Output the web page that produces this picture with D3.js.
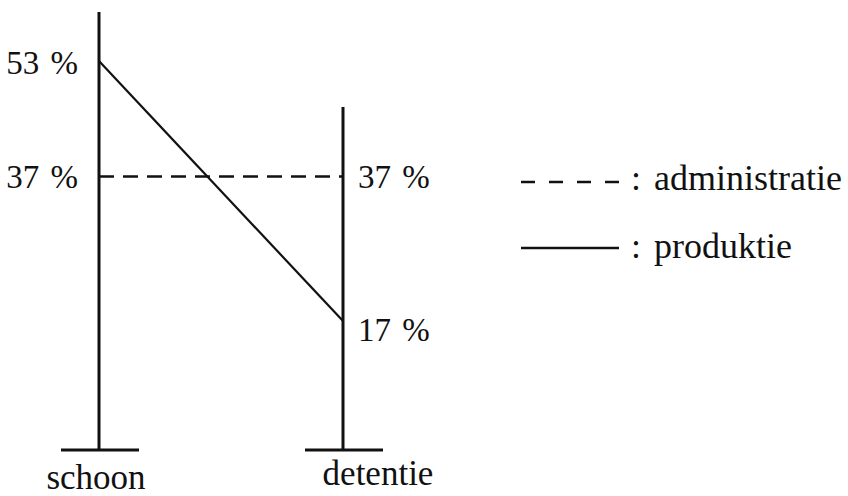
<!DOCTYPE html>
<html>
<head>
<meta charset="utf-8">
<script src="https://cdn.jsdelivr.net/npm/d3@7"></script>
<style>
  body { margin: 0; background: #fff; }
  svg text { font-family: "Liberation Serif", "Times New Roman", serif; fill: #111; }
</style>
</head>
<body>
<div id="chart"></div>
<script>
var categories = ["schoon", "detentie"];
var administratie = [37, 37];
var produktie = [53, 17];
var seriesNames = ["administratie", "produktie"];

var width = 848, height = 496;
var svg = d3.select("#chart").append("svg")
    .attr("width", width)
    .attr("height", height);

var x = d3.scalePoint().domain(categories).range([99, 343]);
var y = d3.scaleLinear().domain([17, 53]).range([321, 61]);

var baseY = 450;
var axisTop = [12, 107];
var ink = "#111";

// vertical posts with a foot at the bottom
categories.forEach(function(c, i) {
    svg.append("line")
        .attr("x1", x(c)).attr("x2", x(c))
        .attr("y1", axisTop[i]).attr("y2", baseY)
        .attr("stroke", ink).attr("stroke-width", 3);
    svg.append("line")
        .attr("x1", x(c) - 38).attr("x2", x(c) + 40)
        .attr("y1", baseY).attr("y2", baseY)
        .attr("stroke", ink).attr("stroke-width", 3);
});

var line = d3.line()
    .x(function(d, i) { return x(categories[i]); })
    .y(function(d) { return y(d); });

svg.append("path")
    .datum(administratie)
    .attr("d", line)
    .attr("fill", "none")
    .attr("stroke", ink)
    .attr("stroke-width", 2.5)
    .attr("stroke-dasharray", "15,9");

svg.append("path")
    .datum(produktie)
    .attr("d", line)
    .attr("fill", "none")
    .attr("stroke", ink)
    .attr("stroke-width", 2.2);

// value labels: first category on the left, second on the right
function addValueLabels(values, dy) {
    values.forEach(function(v, i) {
        svg.append("text")
            .attr("x", i === 0 ? x(categories[i]) - 21 : x(categories[i]) + 15)
            .attr("y", y(v) + dy[i])
            .attr("text-anchor", i === 0 ? "end" : "start")
            .style("font-size", "33px")
            .style("word-spacing", "3px")
            .text(v + " %");
    });
}
addValueLabels(produktie, [13, 20]);
addValueLabels(administratie, [11, 11]);

// category labels
svg.selectAll(".cat")
    .data(categories)
    .enter().append("text")
    .attr("class", "cat")
    .attr("x", function(d, i) { return x(d) + (i === 0 ? -3 : 35); })
    .attr("y", function(d, i) { return i === 0 ? 489 : 485; })
    .attr("text-anchor", "middle")
    .style("font-size", "35px")
    .text(function(d) { return d; });

// legend
var legend = svg.append("g").attr("transform", "translate(521,0)");
var legendY = [182, 248];
var legendTextY = [190, 258];
seriesNames.forEach(function(name, i) {
    legend.append("line")
        .attr("x1", 0).attr("x2", 98)
        .attr("y1", legendY[i]).attr("y2", legendY[i])
        .attr("stroke", ink)
        .attr("stroke-width", 2.5)
        .attr("stroke-dasharray", i === 0 ? "14,14" : null);
    legend.append("text")
        .attr("x", 110)
        .attr("y", legendTextY[i])
        .style("font-size", "36px")
        .style("word-spacing", "4px")
        .text(": " + name);
});
</script>
</body>
</html>
